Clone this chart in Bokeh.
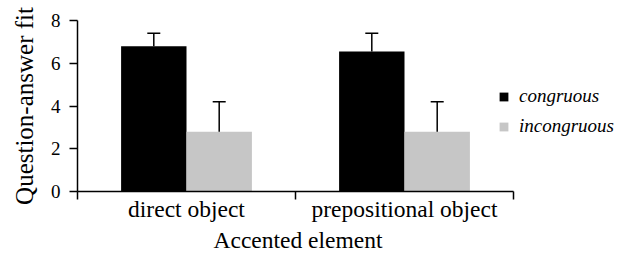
from bokeh.plotting import figure
from bokeh.models import Range1d, FixedTicker, LinearAxis, ColumnDataSource, Whisker, TeeHead, Title
from bokeh.embed import file_html
from bokeh.resources import INLINE

# ---- data ----
categories = ["direct object", "prepositional object"]
series = ["congruous", "incongruous"]
congruous = [6.8, 6.55]
incongruous = [2.8, 2.8]
congruous_err = [0.6, 0.85]
incongruous_err = [1.4, 1.4]
y_ticks = [0, 2, 4, 6, 8]
x_title = "Accented element"
y_title = "Question-answer fit"

FONT = "Liberation Serif"
BAR_W = 0.3
colors = ["#000000", "#c6c6c6"]

W, H = 614, 252
LEFT, TOP, BOTTOM = 77, 20, 61
CAT_PX = 218.0  # pixel width of one category
n = len(categories)
x_end = (W - LEFT) / CAT_PX  # frame extends to the right edge so the legend fits inside it

p = figure(width=W, height=H, x_range=Range1d(0, x_end), y_range=Range1d(0, 8),
           x_axis_type=None, output_backend="svg", toolbar_location=None)
p.min_border_left = LEFT
p.min_border_top = TOP
p.min_border_right = 0
p.min_border_bottom = BOTTOM
p.outline_line_color = None
p.grid.visible = False
p.background_fill_color = "white"
p.border_fill_color = "white"

# y axis
ya = p.yaxis[0]
ya.ticker = FixedTicker(ticks=y_ticks)
ya.minor_tick_line_color = None
ya.major_tick_out = 8
ya.major_tick_in = 0
ya.axis_line_width = 1.5
ya.major_tick_line_width = 1.5
ya.axis_line_color = "black"
ya.major_tick_line_color = "black"
ya.major_label_text_font = FONT
ya.major_label_text_font_size = "19px"
ya.major_label_text_color = "black"
ya.major_label_standoff = 9
ya.axis_label = y_title
ya.axis_label_text_font = FONT
ya.axis_label_text_font_size = "25px"
ya.axis_label_text_font_style = "normal"
ya.axis_label_text_color = "black"
ya.axis_label_standoff = 10

# x axis: ticks at category boundaries
xt = LinearAxis(ticker=FixedTicker(ticks=list(range(n + 1))), bounds=(0, n))
xt.major_label_text_font_size = "0px"
xt.major_label_standoff = 0
xt.major_tick_out = 8
xt.major_tick_in = 0
xt.minor_tick_line_color = None
xt.axis_line_width = 1.5
xt.major_tick_line_width = 1.5
xt.axis_line_color = "black"
xt.major_tick_line_color = "black"
p.add_layout(xt, "below")

# x axis: category labels at centers
xl = LinearAxis(ticker=FixedTicker(ticks=[i + 0.5 for i in range(n)]),
                major_label_overrides={i + 0.5: c for i, c in enumerate(categories)})
xl.axis_line_color = None
xl.major_tick_line_color = None
xl.minor_tick_line_color = None
xl.major_tick_out = 0
xl.major_tick_in = 0
xl.major_label_standoff = -4
xl.major_label_text_font = FONT
xl.major_label_text_font_size = "23.5px"
xl.major_label_text_color = "black"
p.add_layout(xl, "below")

# x-axis title, centred under the two categories
tt = Title(text=x_title, align="left", offset=136, standoff=0,
           text_font=FONT, text_font_size="23.5px", text_font_style="normal",
           text_color="black")
p.add_layout(tt, "below")

# bars + error bars
values = [congruous, incongruous]
errors = [congruous_err, incongruous_err]
offsets = [-BAR_W / 2, BAR_W / 2]
for name, vals, errs, off, col in zip(series, values, errors, offsets, colors):
    xs = [i + 0.5 + off for i in range(n)]
    src = ColumnDataSource(dict(x=xs, top=vals, upper=[v + e for v, e in zip(vals, errs)]))
    p.vbar(x="x", top="top", bottom=0, width=BAR_W, source=src, fill_color=col,
           line_color=None, legend_label=name)
    w = Whisker(source=src, base="x", lower="top", upper="upper", line_width=1.5,
                line_color="black", upper_head=TeeHead(size=13, line_width=1.5, line_color="black"),
                lower_head=None, level="annotation")
    p.add_layout(w)

lg = p.legend[0]
lg.location = (421, 54)
lg.padding = 0
lg.margin = 0
lg.border_line_color = None
lg.background_fill_alpha = 0
lg.glyph_width = 11
lg.glyph_height = 11
lg.label_standoff = 10
lg.spacing = 8
lg.label_height = 20
lg.label_text_font = FONT
lg.label_text_font_size = "19px"
lg.label_text_font_style = "italic"
lg.label_text_color = "black"

open("out.html", "w").write(file_html(p, INLINE))
